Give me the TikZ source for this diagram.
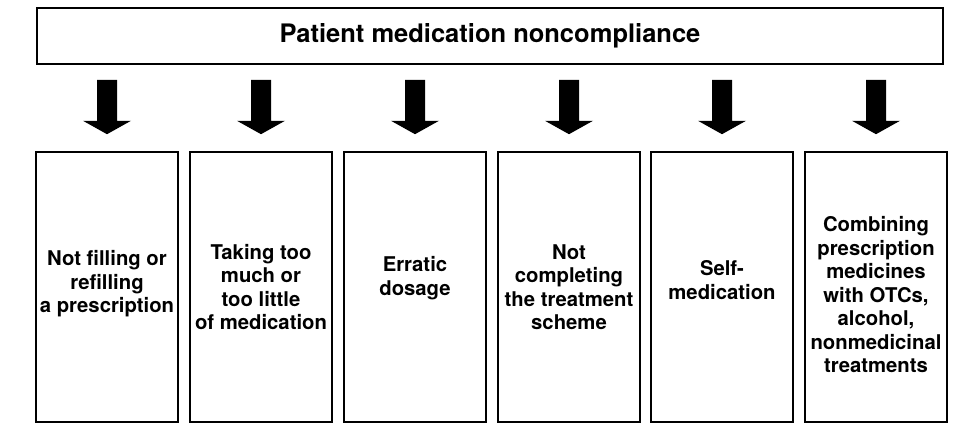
\documentclass[tikz,border=0pt]{standalone}
\usepackage{fontspec}
\setmainfont{TeX Gyre Heros}
\usetikzlibrary{calc}
\begin{document}
\begin{tikzpicture}[x=1pt,y=-1pt,
  headbox/.style={draw, line width=1.6pt, minimum width=906pt, minimum height=56pt,
    inner sep=0pt, font=\fontsize{25.5}{30}\selectfont\bfseries},
  causebox/.style={draw, line width=1.6pt, minimum width=142pt, minimum height=270pt,
    inner sep=0pt},
  causetext/.style={inner sep=0pt, align=center, font=\fontsize{20.3}{23.5}\selectfont\bfseries},
  blockarrow/.style={fill=black, draw=none}]
\useasboundingbox (0,0) rectangle (975,441);

\node[headbox] (top) at (490,36) {Patient medication noncompliance};

% the six boxes
\foreach \n/\x in {1/107,2/261,3/415,4/569,5/722,6/876}
  \node[causebox] (b\n) at (\x,287) {};

% their texts
\node[causetext] (t1) at ($(b1.center)+(0,-3)$) {Not filling or\\refilling\\a prescription};
\node[causetext] (t2) at (b2.center) {Taking too\\much or\\too little\\of medication};
\node[causetext] (t3) at ($(b3.center)+(0,-9)$) {Erratic\\dosage};
\node[causetext] (t4) at (b4.center) {Not\\completing\\the treatment\\scheme};
\node[causetext] (t5) at ($(b5.center)+(0,-7)$) {Self-\\medication};
\node[causetext] (t6) at ($(b6.center)+(0,8)$) {Combining\\prescription\\medicines\\with OTCs,\\alcohol,\\nonmedicinal\\treatments};

% thick block arrows from the heading down to each box
\foreach \b in {b1,b2,b3,b4,b5,b6}{
  \coordinate (s) at (top.south -| \b.north);
  \fill[blockarrow]
    ($(s)+(-10,15)$) -- ($(s)+(10,15)$) -- ($(s)+(10,56)$) -- ($(s)+(24,56)$)
    -- ($(\b.north)+(0,-17)$)
    -- ($(s)+(-24,56)$) -- ($(s)+(-10,56)$) -- cycle;
}
\end{tikzpicture}
\end{document}
